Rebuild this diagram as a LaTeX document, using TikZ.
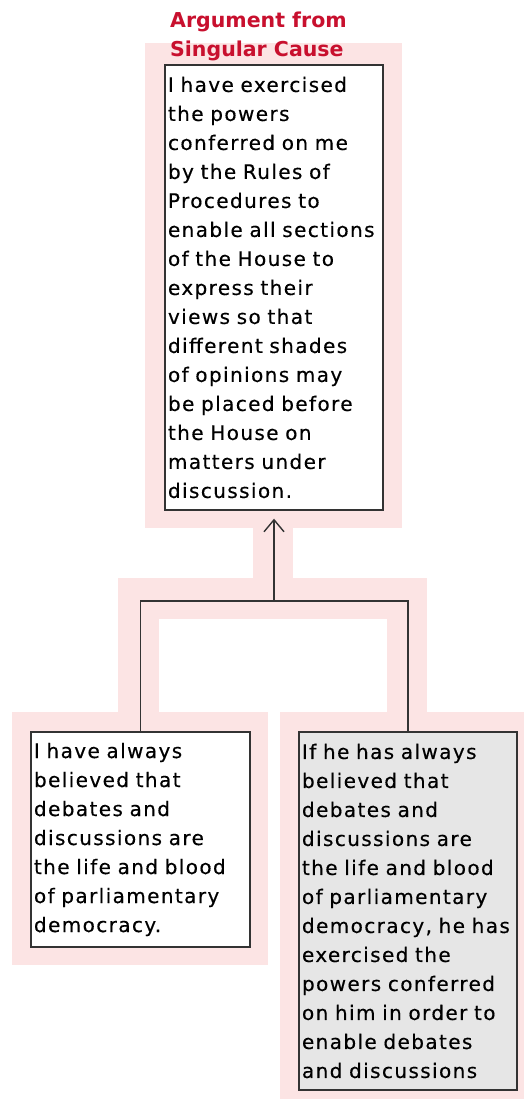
\documentclass[tikz,border=0pt]{standalone}
\usepackage{fontspec}
\setmainfont{DejaVu Sans}
\newfontfamily\boxfont[LetterSpace=7,FakeBold=0.4]{DejaVu Sans}
\usetikzlibrary{arrows.meta}
\definecolor{halo}{HTML}{FCE4E4}
\definecolor{boxline}{HTML}{333333}
\definecolor{titlered}{HTML}{C8102E}
\definecolor{greyfill}{HTML}{E6E6E6}
\tikzset{
  claim/.style={draw=boxline, line width=1.4pt, fill=white, align=left,
    inner xsep=3pt, inner ysep=0pt, anchor=center,
    font=\boxfont\fontsize{20}{29}\selectfont},
  premise/.style={claim, fill=white},
  condpremise/.style={claim, fill=greyfill},
  link/.style={draw=boxline, line width=1.4pt},
  schemetitle/.style={text=titlered, align=left, inner sep=0pt, anchor=north west,
    font=\bfseries\fontsize{20.5}{29}\selectfont}
}
\begin{document}
\begin{tikzpicture}[x=1pt,y=-1pt]
\useasboundingbox (0,0) rectangle (524,1099);
% pink highlight behind the argument
\fill[halo] (145,43) rectangle (402,528);
\fill[halo] (253,527) rectangle (293,579);
\fill[halo] (118,578) rectangle (427,619);
\fill[halo] (118,618) rectangle (159,713);
\fill[halo] (387,618) rectangle (427,713);
\fill[halo] (12,712) rectangle (268,965);
\fill[halo] (280,712) rectangle (524,1099);
% scheme title
\node[schemetitle] (title) at (170,12) {Argument from\\Singular Cause};
% conclusion
\node[claim, text width=212pt, minimum height=445pt] (concl) at (274,287.5)
  {I have exercised\\the powers\\conferred on me\\by the Rules of\\Procedures to\\enable all sections\\of the House to\\express their\\views so that\\different shades\\of opinions may\\be placed before\\the House on\\matters under\\discussion.};
% premises
\node[premise, text width=213pt, minimum height=215pt] (p1) at (140.5,839.5)
  {I have always\\believed that\\debates and\\discussions are\\the life and blood\\of parliamentary\\democracy.};
\node[condpremise, text width=212pt, minimum height=358pt] (p2) at (408,911)
  {If he has always\\believed that\\debates and\\discussions are\\the life and blood\\of parliamentary\\democracy, he has\\exercised the\\powers conferred\\on him in order to\\enable debates\\and discussions};
% linked support
\coordinate (j) at (274,601);
\draw[link] (p1.north) |- (j) -| (p2.north);
\draw[link, -{Straight Barb[length=12pt,width=20pt]}, shorten >=8pt] (j) -- (concl.south);
\end{tikzpicture}
\end{document}
